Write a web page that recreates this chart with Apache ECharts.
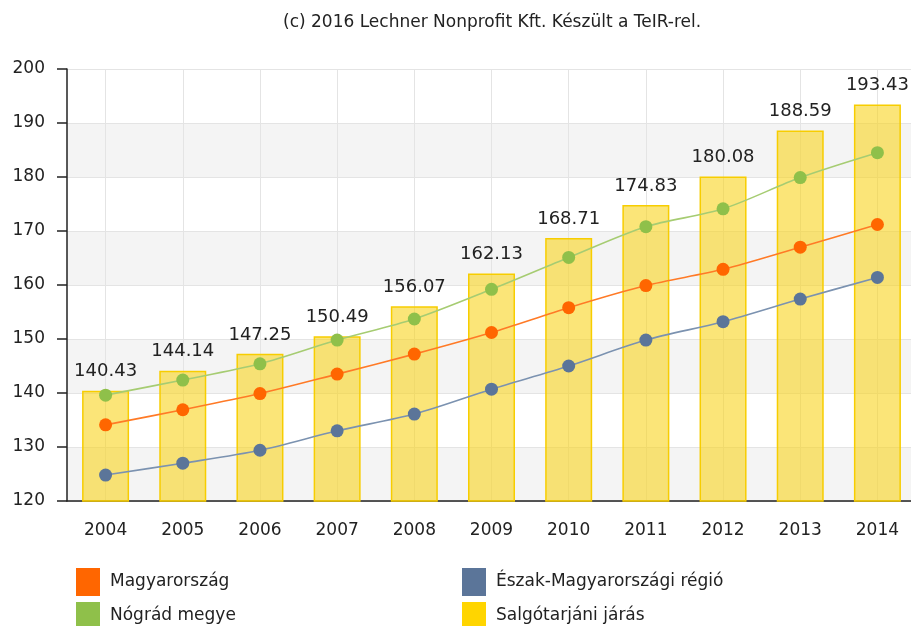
<!DOCTYPE html>
<html>
<head>
<meta charset="utf-8">
<script src="https://cdn.jsdelivr.net/npm/echarts@6/dist/echarts.min.js"></script>
<style>
  html, body { margin: 0; padding: 0; background: #fff; overflow: hidden; }
  #chart { width: 916px; height: 626px; }
</style>
</head>
<body>
<div id="chart"></div>
<script>
// évek
var years = ['2004', '2005', '2006', '2007', '2008', '2009', '2010', '2011', '2012', '2013', '2014'];
// Salgótarjáni járás (oszlop)
var jaras = [140.43, 144.14, 147.25, 150.49, 156.07, 162.13, 168.71, 174.83, 180.08, 188.59, 193.43];
// vonalak
var magyarorszag = [134.1, 136.9, 139.9, 143.5, 147.2, 151.2, 155.8, 159.9, 162.9, 167.0, 171.2];
var regio = [124.8, 127.0, 129.4, 133.0, 136.1, 140.7, 145.0, 149.8, 153.2, 157.4, 161.4];
var megye = [139.6, 142.4, 145.4, 149.8, 153.7, 159.2, 165.1, 170.8, 174.1, 179.9, 184.5];
var yTicks = [120, 130, 140, 150, 160, 170, 180, 190, 200];

var font = '"DejaVu Sans", Verdana, sans-serif';

var chart = echarts.init(document.getElementById('chart'));

function lineSeries(name, data, color, lineColor) {
    return {
        name: name,
        type: 'line',
        data: data,
        smooth: 0.3,
        symbol: 'circle',
        symbolSize: 13,
        z: 3,
        itemStyle: {color: color},
        lineStyle: {color: lineColor, width: 1.6},
        emphasis: {disabled: true}
    };
}

function legendAt(name, color, left, top) {
    return {
        data: [{name: name, itemStyle: {color: color, borderWidth: 0, opacity: 1}}],
        left: left,
        top: top,
        padding: 0,
        itemWidth: 24,
        itemHeight: 28,
        itemGap: 0,
        icon: 'rect',
        selectedMode: false,
        textStyle: {fontFamily: font, fontSize: 17, color: '#222', padding: [0, 0, 0, 5]}
    };
}

chart.setOption({
    animation: false,
    title: {
        text: '(c) 2016 Lechner Nonprofit Kft. Készült a TeIR-rel.',
        left: 278,
        top: 9,
        textStyle: {fontFamily: font, fontSize: 17, fontWeight: 'normal', color: '#222'}
    },
    legend: [
        legendAt('Magyarország', '#ff6600', 76, 568),
        legendAt('Észak-Magyarországi régió', '#5b7599', 462, 568),
        legendAt('Nógrád megye', '#8fc04a', 76, 602),
        legendAt('Salgótarjáni járás', '#ffd500', 462, 602)
    ],
    grid: {left: 67, top: 69, width: 849, height: 432, containLabel: false},
    xAxis: {
        type: 'category',
        data: years,
        boundaryGap: true,
        axisLine: {lineStyle: {color: '#222', width: 1.5}},
        axisTick: {alignWithLabel: true, length: 8, lineStyle: {color: '#222', width: 1.5}},
        axisLabel: {fontFamily: font, fontSize: 17, color: '#222', margin: 21},
        splitLine: {show: true, alignWithLabel: true, lineStyle: {color: '#e4e4e4'}}
    },
    yAxis: {
        type: 'value',
        min: yTicks[0],
        max: yTicks[yTicks.length - 1],
        interval: 10,
        axisLine: {show: true, lineStyle: {color: '#222', width: 1.5}},
        axisTick: {show: true, length: 10, lineStyle: {color: '#222', width: 1.5}},
        axisLabel: {fontFamily: font, fontSize: 17, color: '#222', margin: 22},
        splitLine: {show: true, lineStyle: {color: '#e4e4e4'}},
        splitArea: {show: true, areaStyle: {color: ['#f4f4f4', '#ffffff']}}
    },
    series: [
        lineSeries('Magyarország', magyarorszag, '#ff6600', '#ff7a26'),
        lineSeries('Észak-Magyarországi régió', regio, '#5b7599', '#7b92b0'),
        lineSeries('Nógrád megye', megye, '#8fc04a', '#a6cc72'),
        {
            name: 'Salgótarjáni járás',
            type: 'bar',
            data: jaras,
            barWidth: 47,
            z: 2,
            itemStyle: {color: 'rgba(248, 212, 30, 0.6)', borderColor: '#f7cd00', borderWidth: 1.5},
            label: {
                show: true,
                position: 'top',
                distance: 10,
                fontFamily: font,
                fontSize: 18,
                color: '#222'
            },
            emphasis: {disabled: true}
        }
    ]
});
</script>
</body>
</html>
